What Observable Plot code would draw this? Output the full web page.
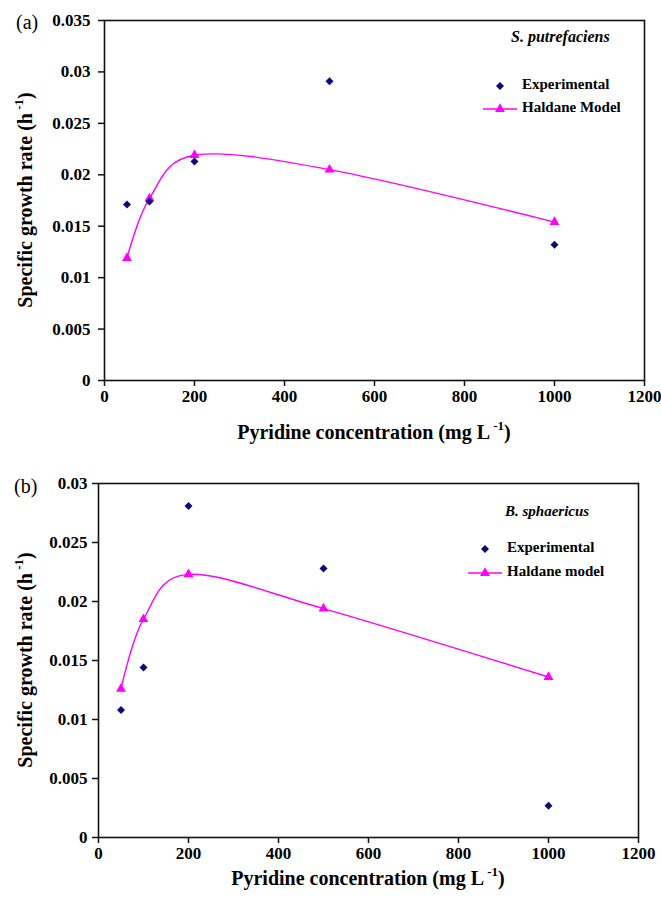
<!DOCTYPE html>
<html>
<head>
<meta charset="utf-8">
<script src="https://cdn.jsdelivr.net/npm/d3@7"></script>
<script src="https://cdn.jsdelivr.net/npm/@observablehq/plot@0.6"></script>
<style>
  html, body { margin: 0; padding: 0; background: #fff; }
  #chart { width: 661px; }
  #chart svg { display: block; }
  #chart svg text { font-family: "Liberation Serif", "Times New Roman", serif !important; }
</style>
</head>
<body>
<div id="chart"></div>
<script>
// ---- data ----
const concentration = [50, 100, 200, 500, 1000];
const expA = [0.0171, 0.0174, 0.0213, 0.0291, 0.0132];
const modelA = [0.0119, 0.0177, 0.0219, 0.0205, 0.0154];
const expB = [0.0108, 0.0144, 0.0281, 0.0228, 0.0027];
const modelB = [0.0126, 0.0185, 0.0223, 0.0194, 0.0136];
const xTicks = [0, 200, 400, 600, 800, 1000, 1200];
const yTicksA = [0, 0.005, 0.01, 0.015, 0.02, 0.025, 0.03, 0.035];
const yTicksB = [0, 0.005, 0.01, 0.015, 0.02, 0.025, 0.03];
const panelLetters = ["(a)", "(b)"];
const organisms = ["S. putrefaciens", "B. sphaericus"];
const legendExp = ["Experimental", "Experimental"];
const legendModel = ["Haldane Model", "Haldane model"];

const NAVY = "#0a0a7a";
const MAGENTA = "#ff00ff";
const FONT = "Liberation Serif, Times New Roman, serif";

function rows(ys) { return concentration.map((c, i) => ({x: c, y: ys[i]})); }

function panel(cfg) {
  const exp = rows(cfg.exp), model = rows(cfg.model);
  const svg = Plot.plot({
    width: 661, height: cfg.height,
    marginTop: cfg.mt, marginBottom: cfg.mb, marginLeft: cfg.ml, marginRight: cfg.mr,
    style: {fontFamily: FONT, fontWeight: "bold", fontSize: "17px", color: "black", background: "white"},
    x: {domain: [0, 1200]},
    y: {domain: [0, cfg.ymax]},
    marks: [
      Plot.frame({stroke: "#111", strokeWidth: 1.6}),
      Plot.axisX({ticks: xTicks, tickSize: 6, tickPadding: 3, tickFormat: d => String(d), label: null, stroke: "#111", strokeWidth: 1.5, fontWeight: "bold"}),
      Plot.axisY({ticks: cfg.yTicks, tickSize: 6, tickPadding: cfg.tp, tickFormat: d => String(+d.toFixed(3)), label: null, stroke: "#111", strokeWidth: 1.5, fontWeight: "bold"}),
      Plot.line(model, {x: "x", y: "y", curve: "cardinal", stroke: MAGENTA, strokeWidth: 1.4}),
      Plot.dot(model, {x: "x", y: "y", symbol: "triangle", fill: MAGENTA, stroke: "none", r: 3.7}),
      Plot.dot(exp, {x: "x", y: "y", symbol: "diamond2", fill: NAVY, stroke: "none", r: 3.6})
    ]
  });
  const s = d3.select(svg);
  const txt = (x, y, str, o = {}) => s.append("text")
    .attr("x", x).attr("y", y)
    .attr("font-size", o.size || 15)
    .attr("font-weight", o.weight || "bold")
    .attr("font-style", o.style || "normal")
    .attr("text-anchor", o.anchor || "start")
    .attr("dominant-baseline", "middle")
    .attr("fill", "black")
    .attr("transform", o.rotate ? `rotate(-90 ${x} ${y})` : null)
    .text(str);
  // panel letter
  txt(cfg.letterX, cfg.letterY, cfg.letter, {size: 20, weight: "normal"});
  // organism name
  txt(cfg.orgX, cfg.orgY, cfg.org, {size: cfg.orgSize, style: "italic"});
  // legend
  s.append("path").attr("d", d3.symbol(d3.symbolDiamond2, Math.PI * 3.6 * 3.6)())
    .attr("transform", `translate(${cfg.legX},${cfg.legY1})`).attr("fill", NAVY);
  txt(cfg.legTX, cfg.legY1, cfg.legExp, {size: 15});
  s.append("line").attr("x1", cfg.legX - 17).attr("x2", cfg.legX + 17)
    .attr("y1", cfg.legY2).attr("y2", cfg.legY2).attr("stroke", MAGENTA).attr("stroke-width", 1.4);
  s.append("path").attr("d", d3.symbol(d3.symbolTriangle, Math.PI * 3.7 * 3.7)())
    .attr("transform", `translate(${cfg.legX},${cfg.legY2})`).attr("fill", MAGENTA);
  txt(cfg.legTX, cfg.legY2, cfg.legModel, {size: 15});
  // axis titles with superscripts
  const cx = cfg.ml + (661 - cfg.ml - cfg.mr) / 2;
  const xl = txt(cx, cfg.xLabelY, "", {size: 20, anchor: "middle"});
  xl.append("tspan").text("Pyridine concentration (mg L");
  xl.append("tspan").attr("dy", -7).attr("font-size", 13).text(" -1");
  xl.append("tspan").attr("dy", 7).text(")");
  const cy = cfg.mt + (cfg.height - cfg.mt - cfg.mb) / 2;
  const yl = txt(cfg.yLabelX, cy, "", {size: 20, anchor: "middle", rotate: true});
  yl.append("tspan").text("Specific growth rate (h");
  yl.append("tspan").attr("dy", -7).attr("font-size", 13).text(" -1");
  yl.append("tspan").attr("dy", 7).text(")");
  return svg;
}

const chart = document.getElementById("chart");
chart.appendChild(panel({
  height: 450, mt: 20, mb: 70, ml: 104, mr: 17, ymax: 0.035, yTicks: yTicksA, tp: 8,
  exp: expA, model: modelA, letter: panelLetters[0], letterX: 16, letterY: 24,
  org: organisms[0], orgX: 511, orgY: 38, orgSize: 16,
  legX: 500, legY1: 86, legY2: 109, legTX: 522,
  legExp: legendExp[0], legModel: legendModel[0],
  xLabelY: 434, yLabelX: 27
}));
chart.appendChild(panel({
  height: 447, mt: 33, mb: 60, ml: 98, mr: 23, ymax: 0.03, yTicks: yTicksB, tp: 5,
  exp: expB, model: modelB, letter: panelLetters[1], letterX: 14, letterY: 38,
  org: organisms[1], orgX: 505, orgY: 63, orgSize: 15,
  legX: 485, legY1: 99, legY2: 123, legTX: 507,
  legExp: legendExp[1], legModel: legendModel[1],
  xLabelY: 430, yLabelX: 27
}));
</script>
</body>
</html>
